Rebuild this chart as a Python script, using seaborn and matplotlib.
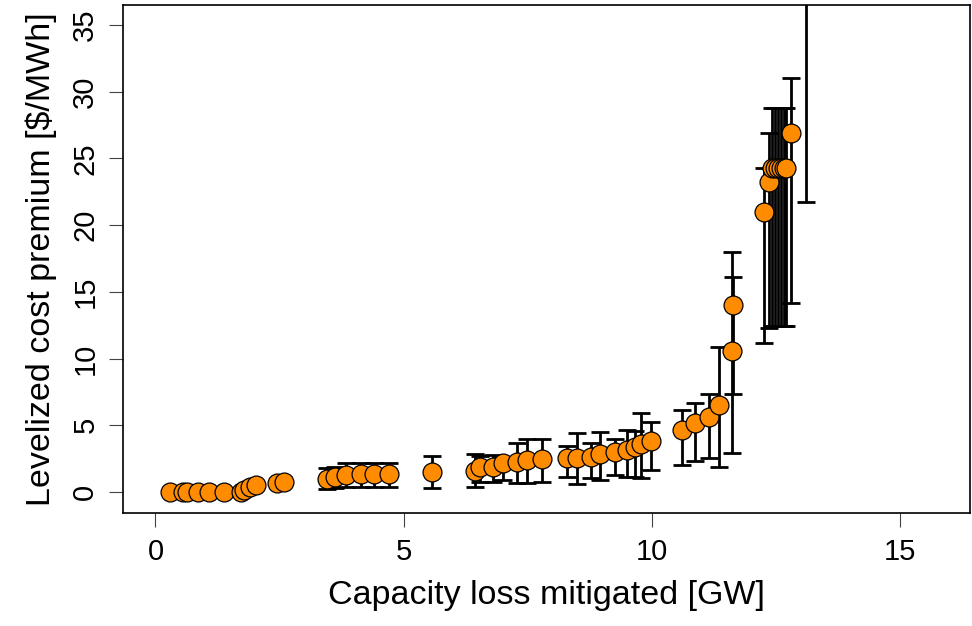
import numpy as np
import pandas as pd
import matplotlib
matplotlib.use("Agg")
import matplotlib.pyplot as plt
import seaborn as sns

# ---- data ----
capacity_gw = [0.29, 0.56, 0.63, 0.86, 1.08, 1.38, 1.72, 1.79, 1.91, 2.03, 2.44, 2.60,
               3.45, 3.62, 3.85, 4.14, 4.41, 4.71,
               5.58,
               6.44, 6.54, 6.81, 7.00, 7.29, 7.48, 7.79,
               8.29, 8.49, 8.77, 8.97, 9.26, 9.51, 9.67, 9.78, 9.98,
               10.61, 10.88, 11.16, 11.35, 11.62, 11.65,
               12.27, 12.36, 12.42, 12.48, 12.54, 12.60, 12.66, 12.72, 12.81, 13.11]
premium = [0.0, 0.0, 0.0, 0.0, 0.0, 0.0, 0.02, 0.15, 0.35, 0.52, 0.70, 0.72,
           0.95, 1.10, 1.27, 1.35, 1.35, 1.35,
           1.52,
           1.60, 1.90, 1.90, 2.15, 2.27, 2.40, 2.47,
           2.52, 2.52, 2.60, 2.85, 3.02, 3.15, 3.40, 3.58, 3.85,
           4.65, 5.15, 5.60, 6.52, 10.57, 14.0,
           21.0, 23.26, 24.26, 24.26, 24.26, 24.26, 24.26, 24.26, 26.9, 40.0]
lower = [0.0, 0.0, 0.0, 0.0, 0.0, 0.0, 0.02, 0.15, 0.35, 0.52, 0.70, 0.72,
         0.20, 0.30, 0.40, 0.40, 0.40, 0.35,
         0.28,
         0.35, 0.77, 0.77, 0.90, 0.70, 0.65, 0.77,
         1.10, 0.62, 1.03, 0.90, 1.30, 1.15, 1.10, 1.03, 1.65,
         2.03, 2.35, 2.52, 1.85, 2.90, 7.35,
         11.15, 12.27, 12.44, 12.44, 12.44, 12.44, 12.44, 12.44, 14.15, 21.76]
upper = [0.0, 0.0, 0.0, 0.0, 0.0, 0.0, 0.02, 0.15, 0.35, 0.52, 0.70, 0.72,
         1.78, 1.85, 2.15, 2.15, 2.20, 2.15,
         2.72,
         2.85, 2.70, 2.77, 2.60, 3.70, 3.95, 3.95,
         3.42, 4.40, 3.65, 4.50, 3.95, 4.65, 4.55, 5.92, 5.25,
         6.18, 6.70, 7.38, 10.90, 18.0, 16.14,
         24.3, 26.9, 28.8, 28.8, 28.8, 28.8, 28.8, 28.8, 31.0, 50.0]
x_ticks = [0, 5, 10, 15]
y_ticks = [0, 5, 10, 15, 20, 25, 30, 35]

df = pd.DataFrame({"capacity": capacity_gw, "premium": premium,
                   "lower": lower, "upper": upper})

sns.set_style("ticks")
plt.rcParams["font.family"] = ["Liberation Sans", "DejaVu Sans"]
plt.rcParams["text.color"] = "black"
plt.rcParams["axes.labelcolor"] = "black"

fig = plt.figure(figsize=(9.72, 6.26), dpi=100)
ax = fig.add_axes([0.1265, 0.1805, 0.8715, 0.8115])

bars = df[df["upper"] > df["lower"]]
yerr = np.vstack([bars["premium"] - bars["lower"], bars["upper"] - bars["premium"]])
ax.errorbar(bars["capacity"], bars["premium"], yerr=yerr, fmt="none",
            ecolor="black", elinewidth=2.0, capsize=6.5, capthick=2.0, zorder=2)
sns.scatterplot(data=df, x="capacity", y="premium", ax=ax, s=185,
                color="#FF8C00", edgecolor="black", linewidth=0.9, zorder=3,
                legend=False)

ax.set_xlim(-0.655, 16.42)
ax.set_ylim(-1.57, 36.5)
ax.set_xticks(x_ticks)
ax.set_xticklabels([str(t) for t in x_ticks])
ax.set_yticks(y_ticks)
ax.set_yticklabels([str(t) for t in y_ticks], rotation=90, va="center")
ax.tick_params(axis="both", direction="out", length=10, width=0.8,
               color="#444444", labelsize=21, labelcolor="black")
ax.tick_params(axis="x", pad=8)
ax.tick_params(axis="y", pad=7)
for sp in ax.spines.values():
    sp.set_visible(True)
    sp.set_linewidth(1.2)
    sp.set_color("black")

ax.set_xlabel("Capacity loss mitigated [GW]", fontsize=24.5, labelpad=10, color="black")
ax.set_ylabel("Levelized cost premium [$/MWh]", fontsize=24.5, labelpad=10, color="black")

fig.savefig("out.png", dpi=100)
